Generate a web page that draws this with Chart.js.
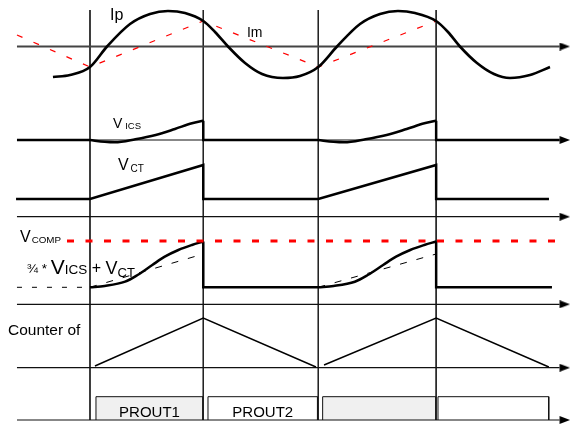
<!DOCTYPE html>
<html>
<head>
<meta charset="utf-8">
<script src="https://cdn.jsdelivr.net/npm/chart.js@4.4.1/dist/chart.umd.min.js"></script>
<style>
  html, body { margin: 0; padding: 0; background: #fff; }
  #c { display: block; }
</style>
</head>
<body>
<canvas id="c" width="572" height="429"></canvas>
<script>
// ---------------- DATA ----------------
// time axis in arbitrary units (≈ 1/10 of a half switching period)
const EVENTS = [0, 9.85, 19.85, 30.1];          // switching instants (vertical lines)
const T_AXIS_START = -6.35;
const T_AXIS_END = 40.83;                         // arrow base

// lane baselines (axis levels, same units as the y scale)
const LANE_IP = 38.25, LANE_VICS = 28.9, LANE_VCT = 21.23, LANE_VCOMP = 12.47, LANE_CNT = 6.13, LANE_PROUT = 0.9;

// primary current Ip (sampled)
const IP_T = [-3.22, -1.74, 0, 1.48, 3.48, 5.22, 6.78, 8.26, 9.85, 10.87, 12.0, 13.48, 14.96, 16.78, 18.26, 19.85,
              21.48, 23.48, 25.22, 26.78, 28.26, 30.1, 31.13, 32.17, 33.65, 35.13, 36.52, 38.26, 40.0];
const IP_V = [-3.05, -2.85, -2.05, 0, 2.25, 3.25, 3.55, 3.35, 2.55, 1.45, 0, -1.65, -2.75, -3.15, -2.95, -2.05,
              0, 2.25, 3.25, 3.55, 3.35, 2.55, 1.45, 0, -1.65, -2.75, -3.15, -2.85, -2.05];

// magnetizing current Im (corners)
const IM_T = [-6.35, 0, 9.85, 19.85, 30.1];
const IM_V = [1.15, -2.05, 2.55, -2.05, 2.55];

// V_ICS ramp shape (phase of on-time -> value)
const VICS_PHASE = [0, 0.13, 0.22, 0.40, 0.58, 0.75, 0.90, 1];
const VICS_V     = [0, -0.18, -0.23, 0.07, 0.5, 1.1, 1.67, 1.93];
const VICS_END = 40.83;

// V_CT
const VCT_LOW = 1.77, VCT_HIGH = 5.17, VCT_START = -6.43, VCT_END = 39.91;

// 3/4*V_ICS + V_CT
const VCOMP_PHASE = [0, 0.13, 0.31, 0.42, 0.55, 0.66, 0.78, 0.90, 1];
const VCOMP_V     = [1.70, 1.83, 2.26, 2.93, 3.93, 4.76, 5.43, 5.93, 6.28];
const VCOMP_LEVEL = 6.33, VCOMP_LEVEL_T = [-2.0, 40.7];
const EST_END = 5.03, VCOMP_END = 40.17;

// counter
const CNT_T = [0.43, 9.85, 19.65, 20.35, 30.1, 39.9];
const CNT_V = [0.17, 4.97, 0.07, 0.27, 4.97, 0.07];

// PROUT pulses
const PROUT_T0 = [0.52, 10.26, 20.23, 30.26];
const PROUT_T1 = [9.83, 19.78, 30.06, 39.89];
const PROUT_H = 2.33;
const PROUT_LABELS = ['PROUT1', 'PROUT2', '', ''];
const PROUT_FILLS = ['#f0f0f0', '#ffffff', '#f0f0f0', '#ffffff'];

const V_TOP = 41.9, V_BOTTOM = 0.9;

// ---------------- helpers ----------------
const pts = (ts, vs, base) => ts.map((t, i) => ({ x: t, y: base + vs[i] }));
const ramp = (t0, t1, ph, vs, base) => ph.map((p, i) => ({ x: t0 + p * (t1 - t0), y: base + vs[i] }));

function makeArrow(len, half) {
  const c = document.createElement('canvas');
  c.width = Math.ceil(len * 2);
  c.height = Math.ceil(half * 2);
  const g = c.getContext('2d');
  g.fillStyle = '#000';
  g.beginPath();
  g.moveTo(len, 0);
  g.lineTo(len * 2, half);
  g.lineTo(len, half * 2);
  g.closePath();
  g.fill();
  return c;
}
const ARROW = makeArrow(10.5, 4);

const line = (data, o = {}) => Object.assign({
  data, showLine: true, borderColor: '#000', borderWidth: 2.5, pointRadius: 0,
  tension: 0, fill: false, order: 1
}, o);

const datasets = [];

// axes with arrows
[LANE_IP, LANE_VICS, LANE_VCT, LANE_VCOMP, LANE_CNT, LANE_PROUT].forEach((b, i) => {
  datasets.push(line([{ x: T_AXIS_START, y: b }, { x: T_AXIS_END, y: b }], {
    borderColor: i === 0 ? '#444' : '#111', borderWidth: i === 0 ? 1.8 : 1.2,
    pointStyle: ARROW, pointRadius: [0, 5], order: 3
  }));
});

// vertical event lines
EVENTS.forEach(t => {
  datasets.push(line([{ x: t, y: V_TOP }, { x: t, y: V_BOTTOM }], { borderColor: '#222', borderWidth: 1, order: 4 }));
});

// Ip
datasets.push(line(pts(IP_T, IP_V, LANE_IP), { cubicInterpolationMode: 'monotone', borderWidth: 2.6, order: 0 }));
// Im
datasets.push(line(pts(IM_T, IM_V, LANE_IP), { borderColor: '#ff0000', borderWidth: 1.2, borderDash: [6, 12], order: 0 }));

// V_ICS
const [E0, E1, E2, E3] = EVENTS;
const vicsTop = VICS_V[VICS_V.length - 1];
datasets.push(line([
  { x: T_AXIS_START, y: LANE_VICS }, { x: E0, y: LANE_VICS }, { x: E0, y: null },
  { x: E1, y: LANE_VICS + vicsTop }, { x: E1, y: LANE_VICS }, { x: E2, y: LANE_VICS }, { x: E2, y: null },
  { x: E3, y: LANE_VICS + vicsTop }, { x: E3, y: LANE_VICS }, { x: VICS_END, y: LANE_VICS }
], { order: 0 }));
datasets.push(line(ramp(E0, E1, VICS_PHASE, VICS_V, LANE_VICS), { cubicInterpolationMode: 'monotone', order: 0 }));
datasets.push(line(ramp(E2, E3, VICS_PHASE, VICS_V, LANE_VICS), { cubicInterpolationMode: 'monotone', order: 0 }));

// V_CT
datasets.push(line([
  { x: VCT_START, y: LANE_VCT + VCT_LOW }, { x: E0, y: LANE_VCT + VCT_LOW }, { x: E1, y: LANE_VCT + VCT_HIGH },
  { x: E1, y: LANE_VCT + VCT_LOW }, { x: E2, y: LANE_VCT + VCT_LOW }, { x: E3, y: LANE_VCT + VCT_HIGH },
  { x: E3, y: LANE_VCT + VCT_LOW }, { x: VCT_END, y: LANE_VCT + VCT_LOW }
], { order: 0 }));

// V_COMP threshold
datasets.push(line([{ x: VCOMP_LEVEL_T[0], y: LANE_VCOMP + VCOMP_LEVEL }, { x: VCOMP_LEVEL_T[1], y: LANE_VCOMP + VCOMP_LEVEL }],
  { borderColor: '#ff0000', borderWidth: 3, borderDash: [7, 11.5], order: 0 }));
// 3/4 Vics + Vct
const vcLow = VCOMP_V[0], vcTop = VCOMP_V[VCOMP_V.length - 1];
datasets.push(line([
  { x: E1, y: LANE_VCOMP + vcTop }, { x: E1, y: LANE_VCOMP + vcLow }, { x: E2, y: LANE_VCOMP + vcLow }, { x: E2, y: null },
  { x: E3, y: LANE_VCOMP + vcTop }, { x: E3, y: LANE_VCOMP + vcLow }, { x: VCOMP_END, y: LANE_VCOMP + vcLow }
], { order: 0 }));
datasets.push(line(ramp(E0, E1, VCOMP_PHASE, VCOMP_V, LANE_VCOMP), { cubicInterpolationMode: 'monotone', order: 0 }));
datasets.push(line(ramp(E2, E3, VCOMP_PHASE, VCOMP_V, LANE_VCOMP), { cubicInterpolationMode: 'monotone', order: 0 }));
// thin dashed reference lines
datasets.push(line([{ x: T_AXIS_START, y: LANE_VCOMP + vcLow }, { x: E0, y: LANE_VCOMP + vcLow }],
  { borderWidth: 1, borderDash: [5, 10], order: 0 }));
datasets.push(line([{ x: E0, y: LANE_VCOMP + vcLow }, { x: E1, y: LANE_VCOMP + EST_END }],
  { borderWidth: 1, borderDash: [7, 10], order: 0 }));
datasets.push(line([{ x: E2, y: LANE_VCOMP + vcLow }, { x: E3, y: LANE_VCOMP + EST_END }],
  { borderWidth: 1, borderDash: [7, 10], order: 0 }));

// counter
datasets.push(line(pts(CNT_T.slice(0, 3), CNT_V.slice(0, 3), LANE_CNT), { borderWidth: 1.4, order: 0 }));
datasets.push(line(pts(CNT_T.slice(3), CNT_V.slice(3), LANE_CNT), { borderWidth: 1.4, order: 0 }));

// PROUT boxes
PROUT_T0.forEach((t0, i) => {
  const t1 = PROUT_T1[i];
  datasets.push(line([
    { x: t0, y: LANE_PROUT }, { x: t0, y: LANE_PROUT + PROUT_H }, { x: t1, y: LANE_PROUT + PROUT_H }, { x: t1, y: LANE_PROUT }
  ], { borderWidth: 1, borderColor: '#111', fill: { value: LANE_PROUT }, backgroundColor: PROUT_FILLS[i], order: 5 }));
});

// ---------------- text labels ----------------
// each label: start position (data units) and a list of runs [text, font size px, baseline shift px, gap before px]
const FONT = '"Liberation Sans", Arial, Helvetica, sans-serif';
const LABELS = [
  { t: 1.74, y: 40.9, runs: [['Ip', 16, 0, 0]] },
  { t: 13.65, y: 39.2, runs: [['Im', 14, 0, 0]] },
  { t: 1.99, y: 30.07, runs: [['V', 14, 0, 0], ['ICS', 9.5, 0.8, 3]] },
  { t: 2.43, y: 25.9, runs: [['V', 16, 0, 0], ['CT', 10, 1.8, 2]] },
  { t: -6.09, y: 18.7, runs: [['V', 16, 0, 0], ['COMP', 9.8, 0.5, 1]] },
  { t: -5.5, y: 15.5, runs: [['¾ * ', 13.5, -1.5, 0], ['V', 21, 0, 0], ['ICS', 13.5, 0, 0], [' + ', 16, -1, 0],
                             ['V', 18, 0, 0], ['CT', 13, 2.5, 0]] },
  { t: -7.13, y: 9.4, runs: [['Counter of', 15.5, 0, 0]] }
];
PROUT_LABELS.forEach((s, i) => {
  if (s) LABELS.push({ t: (PROUT_T0[i] + PROUT_T1[i]) / 2, y: 1.2, align: 'center', runs: [[s, 15, 0, 0]] });
});

const textPlugin = {
  id: 'diagramText',
  afterDatasetsDraw(chart) {
    const { ctx, scales: { x, y } } = chart;
    ctx.save();
    ctx.fillStyle = '#000';
    ctx.textBaseline = 'alphabetic';
    LABELS.forEach(l => {
      let px = x.getPixelForValue(l.t);
      const py = y.getPixelForValue(l.y);
      if (l.align === 'center') {
        ctx.textAlign = 'center';
        const [txt, size] = l.runs[0];
        ctx.font = `${size}px ${FONT}`;
        ctx.fillText(txt, px, py);
        return;
      }
      ctx.textAlign = 'left';
      l.runs.forEach(([txt, size, dy, gap]) => {
        ctx.font = `${size}px ${FONT}`;
        px += gap;
        ctx.fillText(txt, px, py + dy);
        px += ctx.measureText(txt).width;
      });
    });
    ctx.restore();
  }
};

new Chart(document.getElementById('c'), {
  type: 'scatter',
  data: { datasets },
  options: {
    responsive: false,
    animation: false,
    events: [],
    layout: { padding: 0, autoPadding: false },
    plugins: { legend: { display: false }, tooltip: { enabled: false } },
    scales: {
      x: { type: 'linear', min: -7.826, max: 41.913, display: false },
      y: { type: 'linear', min: 0, max: 42.9, display: false }
    }
  },
  plugins: [textPlugin]
});
</script>
</body>
</html>
